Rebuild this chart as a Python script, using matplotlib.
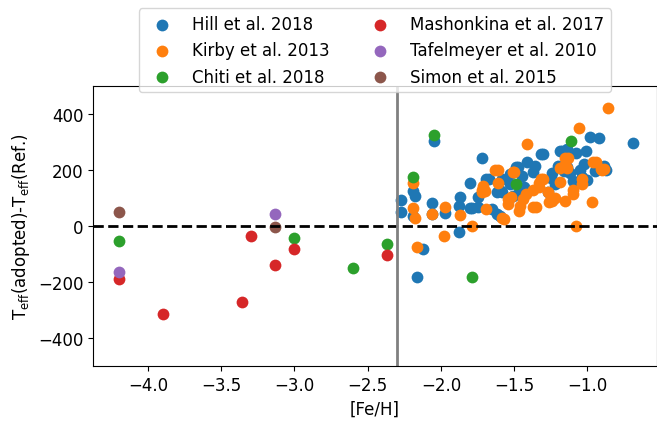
import numpy as np
import matplotlib
matplotlib.use('Agg')
import matplotlib.pyplot as plt

# [Fe/H] and Teff(adopted) - Teff(Ref.)
hill_feh = [-2.27, -2.27, -2.19, -2.18, -2.19, -2.12, -2.16, -2.05, -2.06, -2.06,
            -1.97, -1.875, -1.87, -1.88, -1.80, -1.80, -1.79, -1.75, -1.75, -1.72,
            -1.69, -1.67, -1.65, -1.62, -1.62, -1.59, -1.585, -1.60, -1.58, -1.53,
            -1.53, -1.51, -1.49, -1.475, -1.47, -1.45, -1.43, -1.41, -1.37, -1.36,
            -1.32, -1.30, -1.27, -1.25, -1.24, -1.22, -1.20, -1.19, -1.175, -1.16,
            -1.14, -1.14, -1.12, -1.10, -1.08, -1.05, -1.04, -1.02, -1.01, -1.00,
            -0.98, -0.95, -0.92, -0.89, -0.87, -0.69]
hill_dt = [94, 51, 126, 108, 36, -82, -180, 302, 82, 43,
           48, -23, 103, 72, 155, 65, 63, 103, 68, 244,
           167, 167, 60, 120, 43, 124, 167, 37, 120, 149,
           185, 107, 210, 212, 120, 180, 140, 228, 192, 215,
           256, 256, 120, 170, 190, 150, 215, 268, 268, 195,
           274, 210, 190, 160, 260, 200, 175, 220, 266, 165,
           316, 195, 313, 213, 200, 295]

kirby_feh = [-2.19, -2.19, -2.18, -2.16, -2.06, -1.97, -1.98, -1.87, -1.79, -1.72,
             -1.72, -1.71, -1.70, -1.69, -1.63, -1.61, -1.61, -1.585, -1.57, -1.54,
             -1.54, -1.52, -1.51, -1.50, -1.46, -1.47, -1.44, -1.42, -1.41, -1.37,
             -1.37, -1.35, -1.33, -1.33, -1.32, -1.30, -1.27, -1.26, -1.24, -1.22,
             -1.19, -1.19, -1.16, -1.15, -1.15, -1.14, -1.13, -1.10, -1.10, -1.08,
             -1.06, -1.04, -1.04, -0.97, -0.96, -0.94, -0.91, -0.90, -0.89, -0.86]
kirby_dt = [153, 63, 27, -74, 43, 66, -34, 39, 1, 130,
            120, 141, 126, 60, 200, 199, 155, 28, 25, 95,
            78, 102, 193, 191, 72, 53, 95, 115, 292, 130,
            68, 66, 139, 155, 167, 167, 120, 84, 90, 100,
            205, 157, 215, 244, 90, 205, 244, 130, 114, 0,
            349, 167, 150, 84, 228, 227, 202, 200, 202, 420]

chiti_feh = [-4.2, -3.0, -2.6, -2.37, -2.19, -2.05, -1.79, -1.49, -1.11]
chiti_dt = [-55, -44, -149, -64, 173, 324, -180, 149, 304]

mash_feh = [-4.2, -3.9, -3.36, -3.30, -3.13, -3.0, -2.37]
mash_dt = [-190, -313, -272, -35, -138, -82, -102]

taf_feh = [-4.2, -3.13]
taf_dt = [-165, 43]

simon_feh = [-4.2, -3.13]
simon_dt = [51, -2]

series = [
    ('Hill et al. 2018', hill_feh, hill_dt, '#1f77b4'),
    ('Kirby et al. 2013', kirby_feh, kirby_dt, '#ff7f0e'),
    ('Chiti et al. 2018', chiti_feh, chiti_dt, '#2ca02c'),
    ('Mashonkina et al. 2017', mash_feh, mash_dt, '#d62728'),
    ('Tafelmeyer et al. 2010', taf_feh, taf_dt, '#9467bd'),
    ('Simon et al. 2015', simon_feh, simon_dt, '#8c564b'),
]

plt.rcParams['font.size'] = 12

fig = plt.figure(figsize=(6.57, 4.27), dpi=100)
ax = fig.add_axes([0.1416, 0.1398, 0.8584, 0.6571])

for label, feh, dt, color in series:
    ax.scatter(feh, dt, s=72, color=color, label=label, linewidths=0)

ax.axhline(0, color='black', linestyle='--', linewidth=2)
ax.axvline(-2.3, color='gray', linewidth=2)

ax.set_xlim(-4.375, -0.525)
ax.set_ylim(-500, 500)
ax.set_yticks([-400, -200, 0, 200, 400])
ax.set_xlabel('[Fe/H]')
ax.set_ylabel(r'T$_{\rm eff}$(adopted)-T$_{\rm eff}$(Ref.)')

ax.legend(loc='upper center', bbox_to_anchor=(0.5, 1.305), ncol=2)

fig.savefig('out.png', dpi=100)
